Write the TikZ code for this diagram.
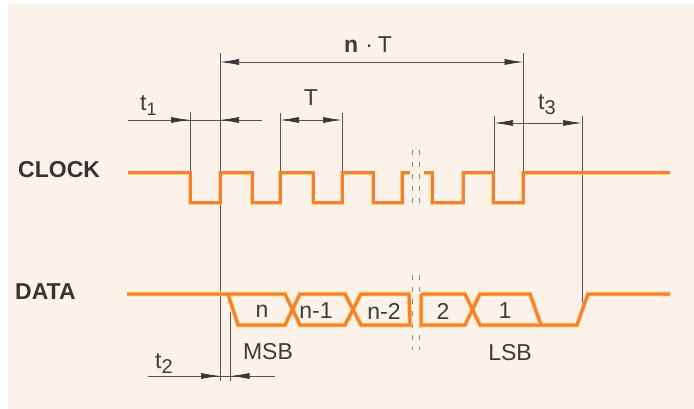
\documentclass[tikz,border=0pt]{standalone}
\usepackage{fontspec}
\setmainfont{Liberation Sans}
\usetikzlibrary{arrows.meta}
\definecolor{bgc}{RGB}{251,242,233}
\definecolor{sigc}{RGB}{244,126,58}
\definecolor{halo}{RGB}{250,214,96}
\definecolor{linec}{RGB}{85,85,85}
\definecolor{headc}{RGB}{55,55,55}
\definecolor{txtc}{RGB}{60,60,60}
\tikzset{
  halostyle/.style={draw=halo,line width=4.6pt,line join=miter},
  sig/.style={draw=sigc,line width=3pt,line join=miter},
  extl/.style={draw=linec,line width=0.8pt},
  diml/.style={draw=linec,line width=0.7pt},
  arr/.style={draw=linec,line width=0.7pt,-{Latex[length=19pt,width=6pt,color=headc]}},
  arrb/.style={draw=linec,line width=0.7pt,{Latex[length=19pt,width=6pt,color=headc]}-{Latex[length=19pt,width=6pt,color=headc]}},
  brk/.style={draw=linec!70,line width=0.8pt,dash pattern=on 5pt off 7pt},
  lbl/.style={text=txtc,font=\fontsize{23}{25}\selectfont,inner sep=0pt},
  big/.style={text=txtc!85!black,font=\fontsize{23}{25}\selectfont\bfseries,inner sep=0pt}
}
\begin{document}
\begin{tikzpicture}[x=1pt,y=-1pt]
\useasboundingbox (0,0) rectangle (694,409);
\fill[white] (0,0) rectangle (694,409);
\fill[bgc] (8,4) rectangle (694,409);

% extension lines
\draw[extl] (190,112) -- (190,173);
\draw[extl] (220,53) -- (220,381);
\draw[extl] (280,113) -- (280,173);
\draw[extl] (342,113) -- (342,173);
\draw[extl] (523.5,53) -- (523.5,173);
\draw[extl] (494,116) -- (494,173);
\draw[extl] (582,116) -- (582,308);
\draw[extl] (230.5,312) -- (230.5,381);

% break marks
\draw[brk] (412.5,150) -- (412.5,210);
\draw[brk] (419.5,150) -- (419.5,210);
\draw[brk] (412.5,275) -- (412.5,350);
\draw[brk] (419.5,275) -- (419.5,350);

% clock signal
\foreach \s in {halostyle,sig}{
\draw[\s] (128,173) -- (190,173) -- (190,203) -- (220,203) -- (220,173) -- (252,173) -- (252,203)
  -- (280,203) -- (280,173) -- (313,173) -- (313,203) -- (342,203) -- (342,173) -- (373,173)
  -- (373,203) -- (402,203) -- (402,173) -- (410,173);
\draw[\s] (424,173) -- (432,173) -- (432,203) -- (463,203) -- (463,173) -- (493,173) -- (493,203)
  -- (523,203) -- (523,173) -- (670,173);
% data signal
\draw[\s] (127,294) -- (285,294) -- (300,325) -- (345,325) -- (361,294) -- (409,294) -- (410,325)
  -- (361,325) -- (345,294) -- (300,294) -- (285,325) -- (238,325) -- (228,294);
\draw[\s] (421,294) -- (465,294) -- (480,325) -- (577,325) -- (588,294) -- (670,294);
\draw[\s] (421,294) -- (421,325) -- (465,325) -- (480,294) -- (530,294) -- (541,325);
}

% n*T dimension
\draw[arrb] (220,62) -- (523.5,62);
% t1 dimension
\draw[diml] (128,120) -- (262,120);
\draw[arr] (165,120) -- (190,120);
\draw[arr] (245,120) -- (220,120);
% T dimension
\draw[arrb] (280,120) -- (342,120);
% t3 dimension
\draw[arrb] (494,123) -- (582,123);
% t2 dimension
\draw[diml] (148,376) -- (275,376);
\draw[arr] (196,376) -- (220,376);
\draw[arr] (255,376) -- (230.5,376);

% labels
\node[big,anchor=west] (clk) at (18,170) {CLOCK};
\node[big,anchor=west] (dat) at (15,292) {DATA};
\node[lbl,anchor=base west] (nT) at (344,53) {\textbf{n}\hspace{7pt}·\hspace{5pt}T};
\node[lbl] (Tl) at (311,98) {T};
\node[lbl,anchor=base west] (t1) at (140,111) {t\raisebox{-5pt}{\fontsize{18}{19}\selectfont 1}};
\node[lbl,anchor=base west] (t3) at (538,110) {t\raisebox{-5pt}{\fontsize{20}{21}\selectfont 3}};
\node[lbl,anchor=base west] (t2) at (155,368) {t\raisebox{-5pt}{\fontsize{20}{21}\selectfont 2}};
\node[lbl] (c1) at (262,311) {n};
\node[lbl] (c2) at (316,311) {n-1};
\node[lbl] (c3) at (384,311) {n-2};
\node[lbl] (c4) at (443,311) {2};
\node[lbl] (c5) at (505,311) {1};
\node[lbl] (msb) at (268,352) {MSB};
\node[lbl] (lsb) at (510,353) {LSB};
\end{tikzpicture}
\end{document}
